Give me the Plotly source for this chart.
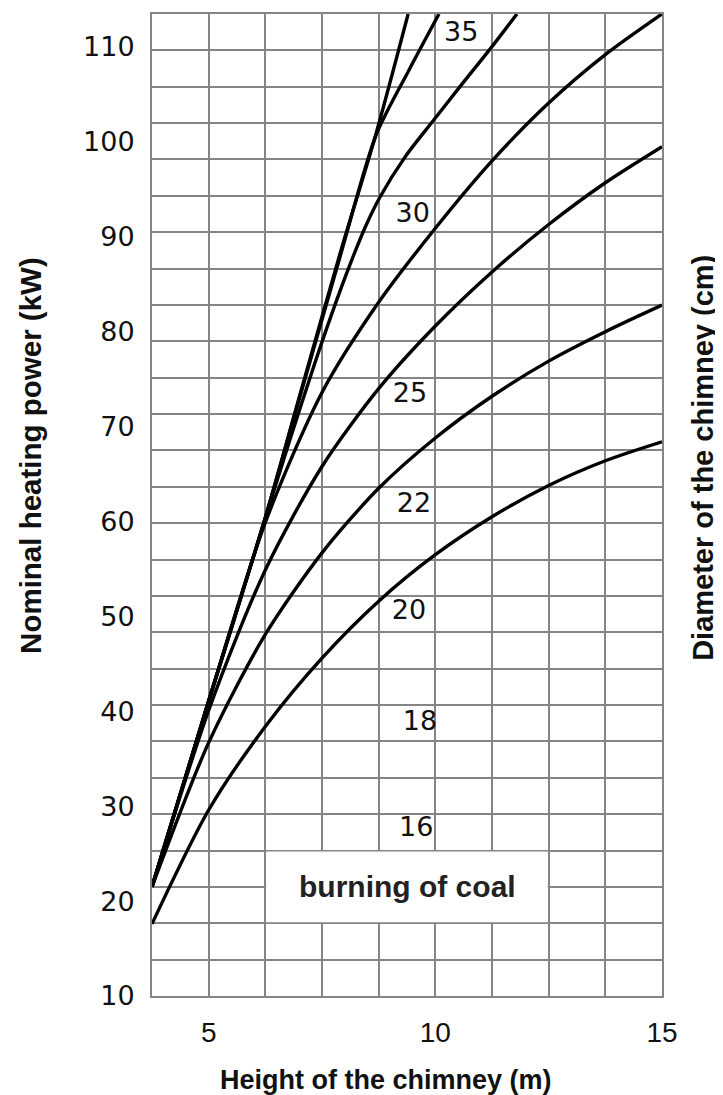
import plotly.graph_objects as go

# ---- axis / grid definition (data units) ----
X_MIN, X_MAX, X_STEP = 3.75, 15.0, 1.25
Y_MIN, Y_MAX = 10.0, 113.48
Y_ROWS = 27
Y_STEP = (Y_MAX - Y_MIN) / Y_ROWS

x_ticks = [5, 10, 15]
y_ticks = [10, 20, 30, 40, 50, 60, 70, 80, 90, 100, 110]

# ---- curves: chimney height (m) -> nominal heating power (kW) ----
col_x = [3.75, 5.0, 6.25, 7.5, 8.75, 10.0, 11.25, 12.5, 13.75, 15.0]

c1_x = col_x
c1_y = [17.6, 29.6, 38.4, 45.6, 51.6, 56.5, 60.5, 63.8, 66.4, 68.4]

c2_x = col_x
c2_y = [21.5, 36.7, 48.1, 56.7, 63.5, 68.8, 73.2, 76.9, 80.0, 82.8]

c3_x = col_x
c3_y = [21.5, 40.1, 54.9, 65.8, 74.0, 80.6, 86.3, 91.3, 95.7, 99.5]

c4_x = col_x
c4_y = [21.5, 41.1, 59.9, 73.6, 83.1, 90.9, 98.0, 104.1, 109.2, 113.48]

c5_x = [3.75, 4.97, 6.20, 6.79, 7.35, 7.83, 8.16, 8.47, 8.78, 9.33, 9.93, 10.54, 11.21, 11.80]
c5_y = [21.5, 40.6, 59.6, 68.6, 76.8, 83.4, 87.6, 91.2, 94.2, 98.4, 102.1, 105.8, 109.8, 113.48]

c6_x = [3.75, 4.97, 6.20, 7.01, 7.94, 8.69, 9.40, 10.08]
c6_y = [21.5, 40.6, 59.6, 73.1, 88.6, 100.7, 107.4, 113.48]

c7_x = [3.75, 4.97, 6.20, 7.01, 7.92, 8.67, 9.40]
c7_y = [21.5, 40.6, 59.6, 73.3, 88.6, 100.5, 113.48]

curves = [(c1_x, c1_y), (c2_x, c2_y), (c3_x, c3_y), (c4_x, c4_y),
          (c5_x, c5_y), (c6_x, c6_y), (c7_x, c7_y)]

# ---- chimney diameter labels (cm) ----
diam_labels = ["35", "30", "25", "22", "20", "18", "16"]
diam_x = [10.57, 9.50, 9.44, 9.53, 9.42, 9.66, 9.58]
diam_y = [111.4, 92.3, 73.3, 61.7, 50.4, 38.7, 27.6]

note_text = "burning of coal"
x_title = "Height of the chimney (m)"
y_title = "Nominal heating power (kW)"
y2_title = "Diameter of the chimney (cm)"

GRID = "#858585"
INK = "#111111"
SANS = "Liberation Sans, Arial, sans-serif"
WIDE = "DejaVu Sans, Verdana, sans-serif"

fig = go.Figure()

for cx, cy in curves:
    fig.add_trace(go.Scatter(
        x=cx, y=cy, mode="lines",
        line=dict(color="black", width=3.4, shape="spline", smoothing=0.8),
        hoverinfo="skip", showlegend=False,
    ))

fig.add_trace(go.Scatter(
    x=diam_x, y=diam_y, mode="text", text=diam_labels,
    textfont=dict(family=WIDE, size=27, color=INK),
    hoverinfo="skip", showlegend=False,
))

# white label box that hides part of the grid (grid columns 2..7, rows 2..4)
bx0, bx1 = X_MIN + 2 * X_STEP, X_MIN + 7 * X_STEP
by0, by1 = Y_MIN + 2 * Y_STEP, Y_MIN + 4 * Y_STEP
fig.add_shape(
    type="rect", xref="x", yref="y", layer="between",
    x0=bx0 + 0.02, x1=bx1 - 0.02, y0=by0 + 0.1, y1=by1 - 0.1,
    fillcolor="white", line=dict(width=0),
)
fig.add_annotation(
    x=(bx0 + bx1) / 2, y=(by0 + by1) / 2, xref="x", yref="y",
    text="<b>" + note_text + "</b>", showarrow=False,
    font=dict(family=SANS, size=30, color="#222222"),
)

# axis titles
fig.add_annotation(
    x=-0.2373, y=0.551, xref="paper", yref="paper", textangle=-90,
    text="<b>" + y_title + "</b>", showarrow=False,
    xanchor="center", yanchor="middle",
    font=dict(family=SANS, size=29.5, color=INK),
)
fig.add_annotation(
    x=1.0804, y=0.548, xref="paper", yref="paper", textangle=-90,
    text="<b>" + y2_title + "</b>", showarrow=False,
    xanchor="center", yanchor="middle",
    font=dict(family=SANS, size=29, color=INK),
)
fig.add_annotation(
    x=0.459, y=-0.0855, xref="paper", yref="paper",
    text="<b>" + x_title + "</b>", showarrow=False,
    xanchor="center", yanchor="middle",
    font=dict(family=SANS, size=27, color=INK),
)

# the page adds an 8px body margin, so the figure is 8px smaller than the window
fig.update_layout(
    width=715, height=1087,
    margin=dict(l=144, r=61, t=6, b=99),
    paper_bgcolor="white", plot_bgcolor="white",
    showlegend=False,
    xaxis=dict(
        range=[X_MIN, X_MAX], tickmode="array", tickvals=x_ticks,
        ticks="", ticklabelstandoff=10,
        tickfont=dict(family=SANS, size=28, color=INK),
        showgrid=True, gridcolor=GRID, gridwidth=2,
        minor=dict(tick0=X_MIN, dtick=X_STEP, showgrid=True,
                   gridcolor=GRID, gridwidth=2, ticks=""),
        showline=True, linecolor=GRID, linewidth=2, mirror=True,
        zeroline=False, automargin=False,
    ),
    yaxis=dict(
        range=[Y_MIN, Y_MAX], tickmode="array", tickvals=y_ticks,
        ticks="", ticklabelstandoff=10,
        tickfont=dict(family=WIDE, size=27, color=INK),
        showgrid=False,
        minor=dict(tick0=Y_MIN, dtick=Y_STEP, showgrid=True,
                   gridcolor=GRID, gridwidth=2, ticks=""),
        showline=True, linecolor=GRID, linewidth=2, mirror=True,
        zeroline=False, automargin=False,
    ),
)

fig.write_html("out.html")
